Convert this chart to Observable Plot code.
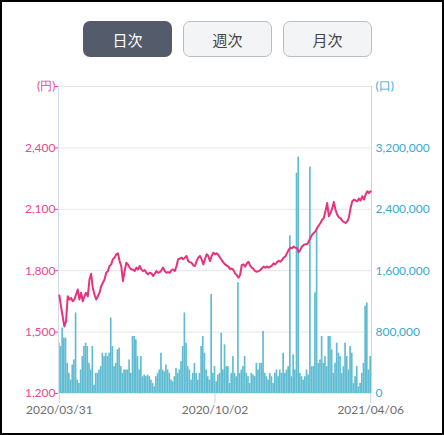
<!DOCTYPE html>
<html><head><meta charset="utf-8">
<script src="https://cdn.jsdelivr.net/npm/d3@7"></script>
<script src="https://cdn.jsdelivr.net/npm/@observablehq/plot@0.6"></script>
<style>
body{margin:0;background:#fff;}
#wrap{position:relative;width:444px;height:435px;overflow:hidden;background:#fff;font-family:Lato,"Noto Sans CJK JP",sans-serif;}
#frame{position:absolute;left:0;top:0;width:444px;height:435px;box-sizing:border-box;border:2px solid #000;pointer-events:none;}
.btn{position:absolute;top:21px;width:89px;height:36px;box-sizing:border-box;border-radius:7px;display:flex;align-items:center;justify-content:center;font-family:"Noto Sans CJK JP",sans-serif;font-size:15px;}
.on{background:#545b6b;color:#fff;}
.off{background:#f3f4f6;color:#444;border:1px solid #bdbdbd;}
.layer{position:absolute;left:0;top:70px;}
.layer svg{overflow:visible;}
#c g[aria-label^="x-axis"] path, #c g[aria-label^="x-axis"] line{stroke:#c9d5e6;}
</style></head><body>
<div id="wrap">
<div class="btn on" style="left:83px">日次</div>
<div class="btn off" style="left:183px">週次</div>
<div class="btn off" style="left:283px">月次</div>
<div class="layer" id="a"></div>
<div class="layer" id="b"></div>
<div class="layer" id="c"></div>
<div id="frame"></div>
</div>
<script>
// Daily closing price (円), 2020/03/31 - 2021/04/06
const price = [
1679,1626,1577,1528,1552,1675,1659,1667,1651,1659,1684,1708,1659,1692,1651,1675,1692,1675,1757,1785,1716,1684,1659,1675,1692,1724,1741,1757,1790,1798,1823,1831,1856,1864,1880,1885,1847,1823,1749,1798,1839,1831,1815,1806,1806,1798,
1815,1806,1823,1806,1798,1803,1790,1782,1790,1787,1774,1785,1798,1790,1793,1803,1815,1798,1790,1793,1790,1803,1806,1798,1823,1856,1859,1864,1856,1864,1872,1847,1842,1839,1826,1823,1847,1864,1872,1856,1831,1856,1880,1872,1847,1872,1888,1880,
1885,1877,1864,1852,1841,1831,1825,1820,1808,1811,1803,1787,1779,1766,1779,1828,1831,1820,1836,1844,1825,1815,1808,1798,1795,1798,1803,1811,1820,1815,1820,1815,1820,1825,1836,1831,1841,1848,1844,1852,1864,1869,1885,1902,1913,1910,1918,1913,
1910,1890,1902,1918,1926,1929,1929,1943,1959,1975,1984,1992,2008,2021,2033,2049,2057,2090,2131,2066,2082,2103,2136,2098,2074,2061,2057,2044,2038,2033,2041,2061,2106,2139,2147,2143,2139,2152,2143,2164,2147,2172,2188,2180,2188
];
// Daily volume (口)
const volume = [
656000,612000,853000,721000,721000,393000,262000,175000,372000,437000,1049000,175000,131000,306000,481000,612000,656000,612000,393000,306000,612000,109000,262000,262000,306000,350000,525000,481000,525000,481000,525000,984000,612000,350000,393000,568000,590000,350000,262000,306000,306000,306000,437000,262000,743000,743000,
700000,481000,306000,481000,219000,240000,219000,240000,219000,175000,131000,87000,219000,262000,306000,525000,306000,284000,372000,306000,262000,175000,153000,219000,328000,262000,306000,415000,612000,1049000,656000,350000,306000,175000,262000,393000,262000,175000,262000,612000,743000,525000,306000,219000,175000,1290000,262000,350000,
153000,240000,262000,787000,306000,634000,350000,350000,131000,262000,481000,262000,219000,1443000,262000,306000,350000,481000,262000,219000,131000,262000,240000,219000,393000,306000,393000,393000,809000,262000,219000,175000,262000,219000,131000,262000,306000,219000,306000,262000,525000,262000,306000,350000,2055000,219000,503000,306000,
2870000,3080000,262000,219000,175000,219000,306000,240000,2950000,350000,350000,1312000,2142000,393000,437000,743000,393000,481000,350000,743000,743000,568000,262000,393000,656000,525000,481000,262000,350000,656000,481000,306000,612000,525000,131000,219000,350000,87000,131000,262000,393000,1137000,1180000,306000,481000
];
const dateLabels = ["2020/03/31","2020/10/02","2021/04/06"];
const dateIndex = [0, 93, 186];
const priceTicks = [1200,1500,1800,2100,2400,2700];
const volumeTicks = [0,800000,1600000,2400000,3200000,4000000];

const N = volume.length;
const rows = volume.map((v,i)=>({i, v, p: price[i]}));
const dims = {width:444, height:350, marginTop:16, marginBottom:27, marginLeft:58, marginRight:73};
const fmt = d3.format(",");

// Layer A: grid, volume bars, right axis
const A = Plot.plot({
  ...dims,
  style:{background:"transparent", fontFamily:"Lato, sans-serif", fontSize:"12px", color:"#38aacf"},
  x:{domain:[0,N], axis:null},
  y:{domain:[0,4000000], axis:"right", ticks:volumeTicks, tickSize:0, tickPadding:4, label:null,
     tickFormat:d => d===4000000 ? "(口)" : fmt(d)},
  marks:[
    Plot.ruleY(volumeTicks, {stroke:"#e6e6e6", strokeWidth:1}),
    Plot.rectY(rows, {x1:"i", x2:d=>d.i+1, y:"v", fill:"#60bcd2"}),
    Plot.ruleX([N], {stroke:"#b4dcea", strokeWidth:1}),
    Plot.ruleX([0], {stroke:"#d3dbe9", strokeWidth:1})
  ]
});
document.getElementById("a").appendChild(A);

// Layer B: price line, left axis
const B = Plot.plot({
  ...dims,
  style:{background:"transparent", fontFamily:"Lato, sans-serif", fontSize:"12px", color:"#ea4a8a"},
  x:{domain:[0,N], axis:null},
  y:{domain:[1200,2700], axis:"left", ticks:priceTicks, tickSize:3, tickPadding:0, label:null,
     tickFormat:d => d===2700 ? "(円)" : fmt(d)},
  marks:[
    Plot.lineY(rows, {x:d=>d.i+0.5, y:"p", stroke:"#e6337b", strokeWidth:2, curve:"linear"})
  ]
});
document.getElementById("b").appendChild(B);

// Layer C: date axis
const labelMap = new Map(dateIndex.map((k,j)=>[k+0.5, dateLabels[j]]));
const C = Plot.plot({
  ...dims,
  style:{background:"transparent", fontFamily:"Lato, sans-serif", fontSize:"12px", color:"#6e6e6e"},
  x:{domain:[0,N], axis:"bottom", ticks:dateIndex.map(k=>k+0.5), tickSize:10, tickPadding:2, label:null,
     tickFormat:d => labelMap.get(d)},
  y:{domain:[0,1], axis:null},
  marks:[]
});
document.getElementById("c").appendChild(C);
</script>
</body></html>
